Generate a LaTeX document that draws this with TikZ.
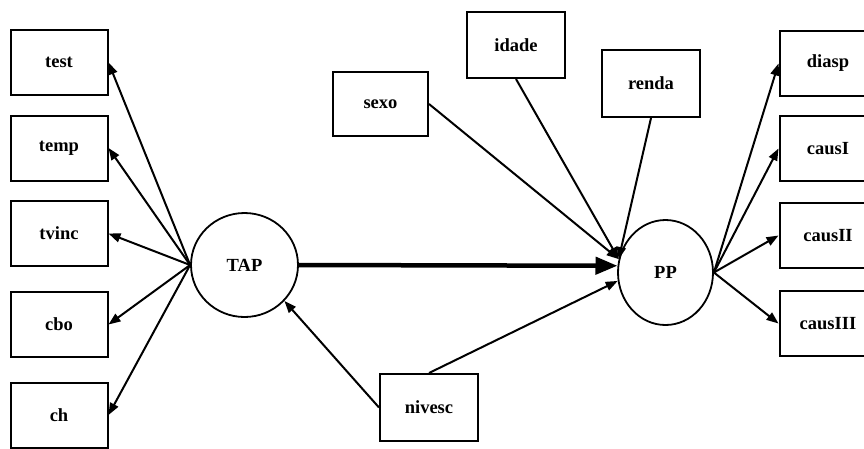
\documentclass[tikz,border=0pt]{standalone}
\usepackage{fontspec}
\setmainfont{Liberation Serif}
\usetikzlibrary{arrows.meta,shapes.geometric}

\begin{document}
\begin{tikzpicture}[x=1pt, y=-1pt,
    every node/.style={font=\fontsize{18.5}{22}\selectfont\bfseries, inner sep=0pt},
    obs/.style={draw, line width=2pt, minimum width=97pt, minimum height=65pt},
    lat/.style={draw, ellipse, line width=1.8pt},
    path/.style={line width=2pt, -{Triangle[length=12pt, width=9pt]}},
    main path/.style={line width=4.5pt, -{Triangle[length=22pt, width=17pt]}}]
\clip (0,0) rectangle (864,448);
\node[obs] (test) at (59,62.5) {test};
\node[obs] (temp) at (59,148) {temp};
\node[obs] (tvinc) at (59,233.5) {tvinc};
\node[obs] (cbo) at (59,324.5) {cbo};
\node[obs] (ch) at (59,415) {ch};
\node[lat, minimum width=107pt, minimum height=104pt] (tap) at (244.5,265) {TAP};
\node[lat, minimum width=95pt, minimum height=105pt] (pp) at (665.5,272.5) {PP};
\node[obs, minimum width=95pt, minimum height=64pt] (sexo) at (380.5,104) {sexo};
\node[obs, minimum width=98pt, minimum height=66pt] (idade) at (516,45) {idade};
\node[obs, minimum width=98pt, minimum height=67pt] (renda) at (651,83.5) {renda};
\node[obs, minimum width=98pt, minimum height=67pt] (nivesc) at (429,407.5) {nivesc};
\node[obs] (diasp) at (828,63.5) {diasp};
\node[obs] (causI) at (828,148.5) {causI};
\node[obs] (causII) at (828,235.5) {causII};
\node[obs] (causIII) at (828,323.5) {causIII};

\foreach \n in {test,temp,tvinc,cbo,ch}
    \draw[path] (tap.west) -- (\n.east);
\foreach \n in {diasp,causI,causII,causIII}
    \draw[path] (pp.east) -- (\n.west);
\draw[path] (sexo.east) -- (pp.164);
\draw[path] (idade.south) -- (pp.164);
\draw[path] (renda.south) -- (pp.164);
\draw[path] (nivesc.north) -- (pp.190);
\draw[path] (nivesc.west) -- (tap.-42);
\draw[main path] (tap.east) -- (pp.172);
\end{tikzpicture}
\end{document}
